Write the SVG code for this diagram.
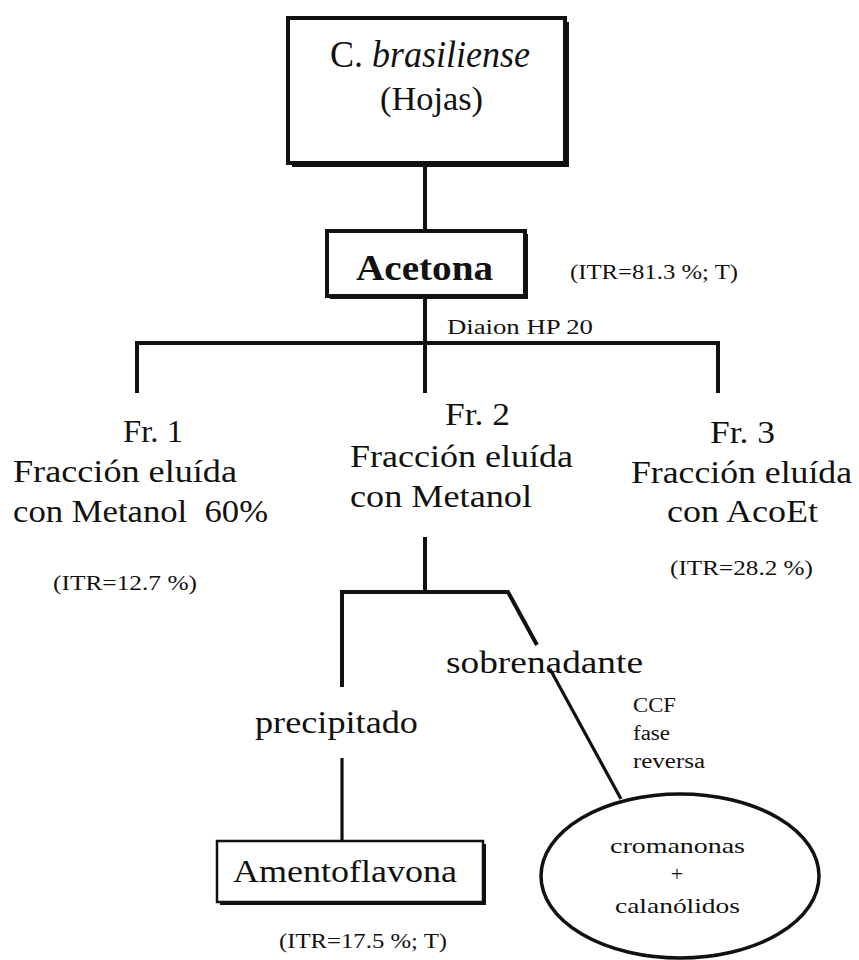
<svg xmlns="http://www.w3.org/2000/svg" width="859" height="960" viewBox="0 0 859 960">
<style>
text{font-family:"Liberation Serif","Times New Roman",serif;fill:#111}
.lg{font-size:31px}
.sm{font-size:20.5px}
.ln{stroke:#111;stroke-width:4;fill:none;stroke-linecap:butt}
.ln3{stroke:#111;stroke-width:3.2;fill:none}
.box{fill:#fff;stroke:#111}
.sh{fill:#111}
</style>
<rect width="859" height="960" fill="#fff"/>
<g id="connectors">
<line class="ln" x1="425" y1="163" x2="425" y2="231"/>
<line class="ln" x1="425" y1="296" x2="425" y2="393"/>
<polyline class="ln" points="137,393 137,343 718,343 718,393"/>
<line class="ln" x1="425" y1="537" x2="425" y2="592"/>
<polyline class="ln" points="342,687 342,592 508,592 537,645"/>
<line class="ln3" x1="550" y1="669" x2="621" y2="799"/>
<line class="ln3" x1="342" y1="758" x2="342" y2="841"/>
</g>
<g id="node-source">
<rect class="sh" x="292" y="22" width="277" height="145"/>
<rect class="box" x="288" y="18" width="277" height="145" stroke-width="4"/>
<text x="330" y="67" font-size="37" textLength="200" lengthAdjust="spacingAndGlyphs">C. <tspan font-style="italic">brasiliense</tspan></text>
<text x="380" y="110" font-size="33" textLength="103" lengthAdjust="spacingAndGlyphs">(Hojas)</text>
</g>
<g id="node-acetona">
<rect class="sh" x="330" y="234" width="198" height="65"/>
<rect class="box" x="327" y="231" width="198" height="65" stroke-width="4"/>
<text x="356" y="280" font-size="36" font-weight="bold" textLength="137" lengthAdjust="spacingAndGlyphs">Acetona</text>
</g>
<g id="label-acetona-itr">
<text class="sm" x="570" y="279" textLength="168" lengthAdjust="spacingAndGlyphs">(ITR=81.3 %; T)</text>
</g>
<g id="label-diaion">
<text class="sm" x="447" y="334" textLength="146" lengthAdjust="spacingAndGlyphs">Diaion HP 20</text>
</g>
<g id="node-fr1">
<text class="lg" x="123" y="442" textLength="60" lengthAdjust="spacingAndGlyphs">Fr. 1</text>
<text class="lg" x="13" y="482" textLength="224" lengthAdjust="spacingAndGlyphs">Fracción eluída</text>
<text class="lg" x="13" y="522" textLength="255" lengthAdjust="spacingAndGlyphs" xml:space="preserve">con Metanol  60%</text>
<text class="sm" x="53" y="590" textLength="144" lengthAdjust="spacingAndGlyphs">(ITR=12.7 %)</text>
</g>
<g id="node-fr2">
<text class="lg" x="445" y="425" textLength="65" lengthAdjust="spacingAndGlyphs">Fr. 2</text>
<text class="lg" x="350" y="467" textLength="223" lengthAdjust="spacingAndGlyphs">Fracción eluída</text>
<text class="lg" x="350" y="507" textLength="182" lengthAdjust="spacingAndGlyphs">con Metanol</text>
</g>
<g id="node-fr3">
<text class="lg" x="710" y="443" textLength="65" lengthAdjust="spacingAndGlyphs">Fr. 3</text>
<text class="lg" x="631" y="483" textLength="221" lengthAdjust="spacingAndGlyphs">Fracción eluída</text>
<text class="lg" x="667" y="522" textLength="151" lengthAdjust="spacingAndGlyphs">con AcoEt</text>
<text class="sm" x="670" y="575" textLength="143" lengthAdjust="spacingAndGlyphs">(ITR=28.2 %)</text>
</g>
<g id="label-sobrenadante">
<text class="lg" x="446" y="673" textLength="197" lengthAdjust="spacingAndGlyphs">sobrenadante</text>
</g>
<g id="label-precipitado">
<text class="lg" x="255" y="733" textLength="163" lengthAdjust="spacingAndGlyphs">precipitado</text>
</g>
<g id="label-ccf">
<text class="sm" x="633" y="712" textLength="43" lengthAdjust="spacingAndGlyphs">CCF</text>
<text class="sm" x="633" y="740" textLength="37" lengthAdjust="spacingAndGlyphs">fase</text>
<text class="sm" x="633" y="768" textLength="72" lengthAdjust="spacingAndGlyphs">reversa</text>
</g>
<g id="node-amentoflavona">
<rect class="sh" x="220" y="844" width="266" height="61"/>
<rect class="box" x="217" y="841" width="266" height="61" stroke-width="2.5"/>
<text class="lg" x="233" y="882" textLength="224" lengthAdjust="spacingAndGlyphs">Amentoflavona</text>
<text class="sm" x="279" y="948" textLength="168" lengthAdjust="spacingAndGlyphs">(ITR=17.5 %; T)</text>
</g>
<g id="node-cromanonas">
<ellipse cx="680" cy="876" rx="139" ry="82" fill="#fff" stroke="#111" stroke-width="3.5"/>
<text x="610" y="853" font-size="22" textLength="135" lengthAdjust="spacingAndGlyphs">cromanonas</text>
<text x="677" y="881" font-size="22" text-anchor="middle">+</text>
<text x="615" y="913" font-size="22" textLength="125" lengthAdjust="spacingAndGlyphs">calanólidos</text>
</g>
</svg>
